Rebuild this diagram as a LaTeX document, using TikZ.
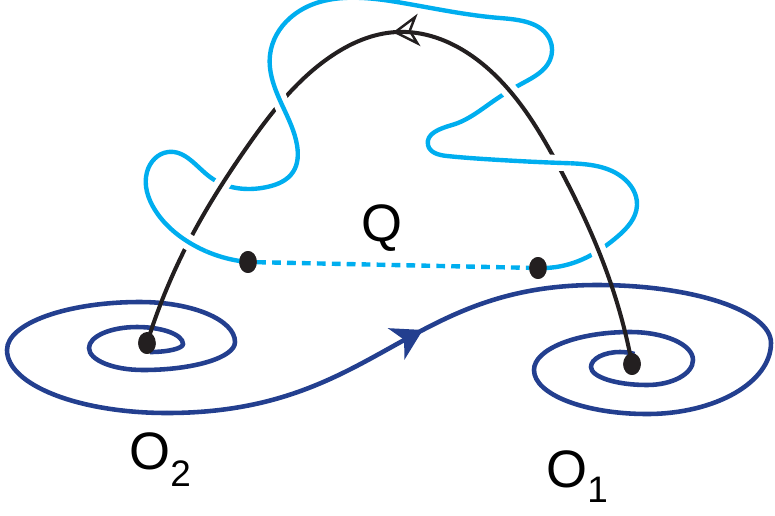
\documentclass[tikz,border=0pt]{standalone}
\usepackage{fontspec}
\setmainfont{Liberation Sans}
\usepackage{tikz}
\usetikzlibrary{shapes.geometric,arrows.meta,decorations.markings,hobby}
\definecolor{orbitblue}{HTML}{233F8F}
\definecolor{loopcyan}{HTML}{00AEEF}
\definecolor{inkblack}{HTML}{231F20}
% the black arc and the cyan loop, in pixel units
\newcommand{\blackarc}{(O1.center) .. (613,290) .. (559,167) .. (497,77) .. (397,32) .. (330,57) .. (247,147) .. (187,245) .. (O2.center)}
\newcommand{\cyanloop}{(qL.center) .. (190,243) .. (155,210) .. (147,172) .. (168,152) .. (210,177) .. (267,187) .. (293,172) .. (297,145) .. (283,107) .. (270,55) .. (290,18) .. (397,2) .. (500,18) .. (550,40) .. (550,60) .. (523,83) .. (495,100) .. (452,125) .. (428,145) .. (447,156) .. (500,160) .. (563,163) .. (622,177) .. (637,205) .. (617,237) .. (573,263) .. (qR.center)}

\begin{document}
\begin{tikzpicture}[x=0.02cm,y=-0.02cm,
 dot/.style={ellipse,fill=inkblack,minimum width=10pt,minimum height=12.5pt,inner sep=0pt},
 lbl/.style={inner sep=0pt,anchor=base west,font=\fontsize{30}{35}\selectfont},
 curvy/.style={use Hobby shortcut},
 cyanline/.style={draw=loopcyan,line width=2.5pt},
 blackline/.style={draw=inkblack,line width=2.3pt},
 blueline/.style={draw=orbitblue,line width=2.6pt},
 casing/.style={draw=white,line width=9pt}]
\useasboundingbox (0,0) rectangle (775,515);
\node[dot] (O2) at (147,343) {};
\node[dot] (O1) at (632,364) {};
\node[dot] (qL) at (248,262) {};
\node[dot] (qR) at (538,268) {};
\coordinate (sL) at (167,413);
\coordinate (sR) at (597,285);
% cyan loop, black arc over it
\draw[cyanline,curvy] \cyanloop;
\draw[casing,curvy] \blackarc;
% blue spiral out of O2, into O1
\draw[blueline] (150,352) arc[start angle=90,end angle=0,x radius=33,y radius=8]
 arc[start angle=0,end angle=-90,x radius=46,y radius=17]
 arc[start angle=-90,end angle=-180,x radius=48,y radius=21]
 arc[start angle=-180,end angle=-270,x radius=54,y radius=22]
 arc[start angle=-270,end angle=-360,x radius=92,y radius=28]
 arc[start angle=0,end angle=-90,x radius=95,y radius=40]
 arc[start angle=-90,end angle=-180,x radius=133,y radius=48]
 arc[start angle=-180,end angle=-270,x radius=160,y radius=63];
\draw[blueline,postaction={decorate,decoration={markings,
 mark=at position 0.6 with {\arrow{Stealth[length=17pt,width=20pt,inset=5pt]}}}}]
 (sL) .. controls (375,413) and (405,285) .. (sR);
\draw[blueline] (sR) arc[start angle=-90,end angle=0,x radius=174,y radius=58]
 arc[start angle=0,end angle=90,x radius=124,y radius=71]
 arc[start angle=90,end angle=180,x radius=113,y radius=44]
 arc[start angle=180,end angle=270,x radius=96,y radius=38]
 arc[start angle=270,end angle=360,x radius=63,y radius=28]
 arc[start angle=0,end angle=90,x radius=46,y radius=25]
 arc[start angle=90,end angle=180,x radius=56,y radius=18]
 arc[start angle=180,end angle=300,x radius=29,y radius=15];
\draw[blackline,curvy,postaction={decorate,decoration={markings,
 mark=at position 0.515 with {\arrow{Stealth[open,length=15pt,width=18.5pt,inset=4.5pt,line width=1.4pt]}}}}] \blackarc;
% crossings where the cyan loop is on top
\foreach \cx/\cy in {283/101,192/237,556/160}{
 \begin{scope}
 \clip (\cx-14,\cy-14) rectangle (\cx+14,\cy+14);
 \draw[casing,curvy] \cyanloop;
 \draw[cyanline,curvy] \cyanloop;
 \end{scope}}
\draw[cyanline,dash pattern=on 5pt off 3.5pt] (qL) -- (qR);
\node[dot] at (qL) {};
\node[dot] at (qR) {};
\node[dot] at (O2) {};
\node[dot] at (O1) {};
\node[lbl] (Qlab) at (361,241) {Q};
\node[lbl] (O2lab) at (129,469) {O\raisebox{-10pt}{\fontsize{21}{21}\selectfont 2}};
\node[lbl] (O1lab) at (546,487) {O\raisebox{-9pt}{\fontsize{21}{21}\selectfont 1}};
\end{tikzpicture}
\end{document}
